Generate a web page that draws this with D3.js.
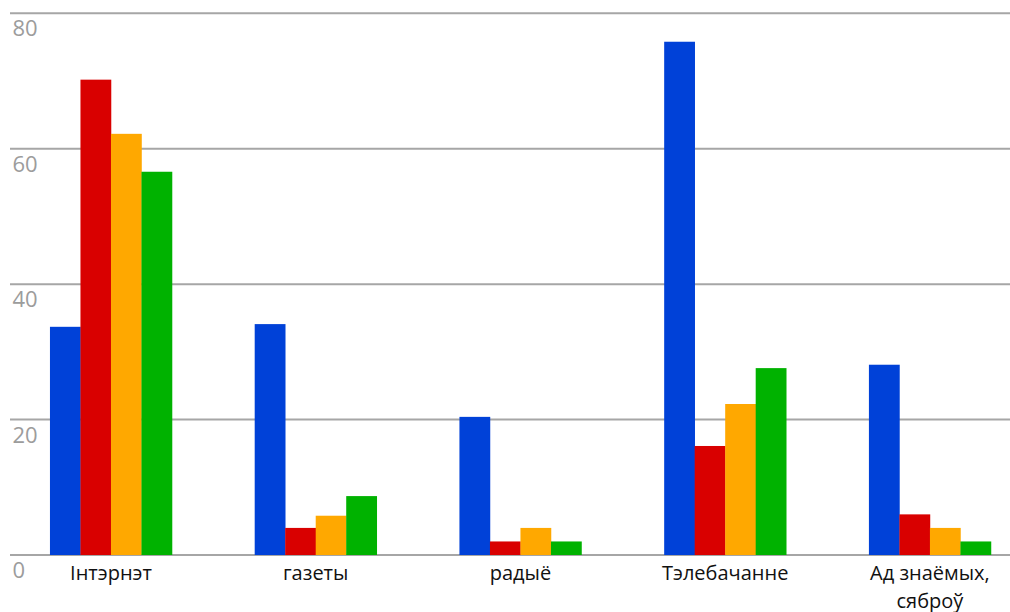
<!DOCTYPE html>
<html><head><meta charset="utf-8">
<script src="https://cdn.jsdelivr.net/npm/d3@7"></script>
<style>body{margin:0;background:#fff}svg{display:block}</style>
</head><body>
<svg id="c" width="1010" height="612"></svg>
<script>
const categories = [["Інтэрнэт"], ["газеты"], ["радыё"], ["Тэлебачанне"], ["Ад знаёмых,", "сяброў"]];
const seriesBlue   = [33.7, 34.1, 20.4, 75.8, 28.1];
const seriesRed    = [70.2, 4.0, 2.0, 16.1, 6.0];
const seriesOrange = [62.2, 5.8, 4.0, 22.3, 4.0];
const seriesGreen  = [56.6, 8.7, 2.0, 27.6, 2.0];
const yTicks = [0, 20, 40, 60, 80];
const colors = ["#0041d8", "#d90000", "#ffa800", "#00b200"];

const series = [seriesBlue, seriesRed, seriesOrange, seriesGreen];
const svg = d3.select("#c");
const y = d3.scaleLinear().domain([0, 80]).range([555, 13.3]);
const x0 = d3.scaleBand().domain(d3.range(categories.length)).range([8.6, 1032.3]).paddingInner(0.404).paddingOuter(0.202);
const x1 = d3.scaleBand().domain(d3.range(series.length)).range([0, x0.bandwidth()]);

// gridlines
const grid = svg.append("g");
grid.selectAll("line").data(yTicks).join("line")
  .attr("x1", 10).attr("x2", 1010)
  .attr("y1", d => y(d)).attr("y2", d => y(d))
  .attr("stroke", "#a6a6a6").attr("stroke-width", 2);
grid.selectAll("text").data(yTicks).join("text")
  .attr("x", 12.5).attr("y", d => y(d) + 23)
  .attr("font-family", "Open Sans, sans-serif").attr("font-size", 22)
  .attr("fill", "#9c9c9c").text(d => d);

// bars
const g = svg.append("g");
categories.forEach((c, i) => {
  g.selectAll(null).data(series.map((s, j) => ({j, v: s[i]}))).join("rect")
    .attr("x", d => x0(i) + x1(d.j))
    .attr("width", x1.bandwidth() + 0.3)
    .attr("y", d => y(d.v))
    .attr("height", d => y(0) - y(d.v))
    .attr("fill", d => colors[d.j]);
});

// category labels
const lab = svg.append("g").attr("font-family", "Open Sans, sans-serif").attr("font-size", 20).attr("fill", "#111").attr("text-anchor", "middle");
categories.forEach((c, i) => {
  c.forEach((line, k) => lab.append("text")
    .attr("x", x0(i) + x0.bandwidth() / 2)
    .attr("y", 580 + k * 27.5)
    .text(line));
});
</script>
</body></html>
